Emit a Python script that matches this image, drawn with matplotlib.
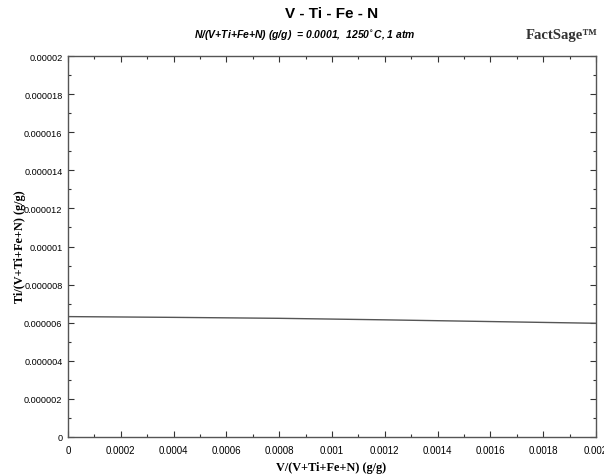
import matplotlib
matplotlib.use("Agg")
import matplotlib.pyplot as plt
from matplotlib.ticker import FixedLocator, FixedFormatter, MultipleLocator

# Ti/(V+Ti+Fe+N) vs V/(V+Ti+Fe+N)
v_frac = [0.0, 0.0004, 0.0008, 0.0012, 0.0016, 0.002]
ti_frac = [6.32e-6, 6.28e-6, 6.23e-6, 6.15e-6, 6.06e-6, 5.97e-6]

x_ticks = [0, 0.0002, 0.0004, 0.0006, 0.0008, 0.001, 0.0012, 0.0014, 0.0016, 0.0018, 0.002]
x_labels = ["0", "0.0002", "0.0004", "0.0006", "0.0008", "0.001", "0.0012",
            "0.0014", "0.0016", "0.0018", "0.002"]
y_ticks = [0, 2e-6, 4e-6, 6e-6, 8e-6, 1e-5, 1.2e-5, 1.4e-5, 1.6e-5, 1.8e-5, 2e-5]
y_labels = ["0", "0.000002", "0.000004", "0.000006", "0.000008", "0.00001",
            "0.000012", "0.000014", "0.000016", "0.000018", "0.00002"]

W, H = 604, 477
fig = plt.figure(figsize=(W / 100, H / 100), dpi=100)
ax = fig.add_axes([68 / W, 1 - 438 / H, (596 - 68) / W, (438 - 57) / H])

ax.plot(v_frac, ti_frac, color="#555555", lw=1.0)

ax.set_xlim(0, 0.002)
ax.set_ylim(0, 2e-5)
ax.xaxis.set_major_locator(FixedLocator(x_ticks))
ax.xaxis.set_major_formatter(FixedFormatter(x_labels))
ax.yaxis.set_major_locator(FixedLocator(y_ticks))
ax.yaxis.set_major_formatter(FixedFormatter(y_labels))
ax.xaxis.set_minor_locator(MultipleLocator(0.0001))
ax.yaxis.set_minor_locator(MultipleLocator(1e-6))
ax.tick_params(which="both", direction="in", top=True, right=True,
               colors="#333333", labelcolor="black", labelsize=7, width=0.8)
ax.tick_params(which="major", length=4)
ax.tick_params(which="minor", length=2)
ax.tick_params(axis="x", pad=6)
ax.tick_params(axis="y", pad=4)
for sp in ax.spines.values():
    sp.set_color("#555555")
    sp.set_linewidth(1.0)
for lab in ax.get_xticklabels():
    lab.set_family("Liberation Sans")
for lab in ax.get_yticklabels():
    lab.set_family("Liberation Sans")
    lab.set_fontsize(6.6)

fig.text(332 / W, 1 - 14 / H, "V - Ti - Fe - N", ha="center", va="center",
         fontsize=11, fontweight="bold", family="Liberation Sans")
fig.text(305 / W, 1 - 35 / H,
         r"N/(V+Ti+Fe+N) (g/g)  = 0.0001,  1250$^{\circ}$C, 1 atm",
         ha="center", va="center", fontsize=7.5, fontweight="bold",
         style="italic", family="Liberation Sans")
fig.text(562 / W, 1 - 36 / H, "FactSage\u2122", ha="center", va="center",
         fontsize=10.5, fontweight="bold", family="Liberation Serif", color="#333333")

fig.text(331 / W, 1 - 468 / H, "V/(V+Ti+Fe+N) (g/g)", ha="center", va="center",
         fontsize=8.8, fontweight="bold", family="Liberation Serif")
fig.text(20 / W, 1 - 247 / H, "Ti/(V+Ti+Fe+N) (g/g)", ha="center", va="center",
         rotation=90, fontsize=8.8, fontweight="bold", family="Liberation Serif")

fig.savefig("out.png", dpi=100)
